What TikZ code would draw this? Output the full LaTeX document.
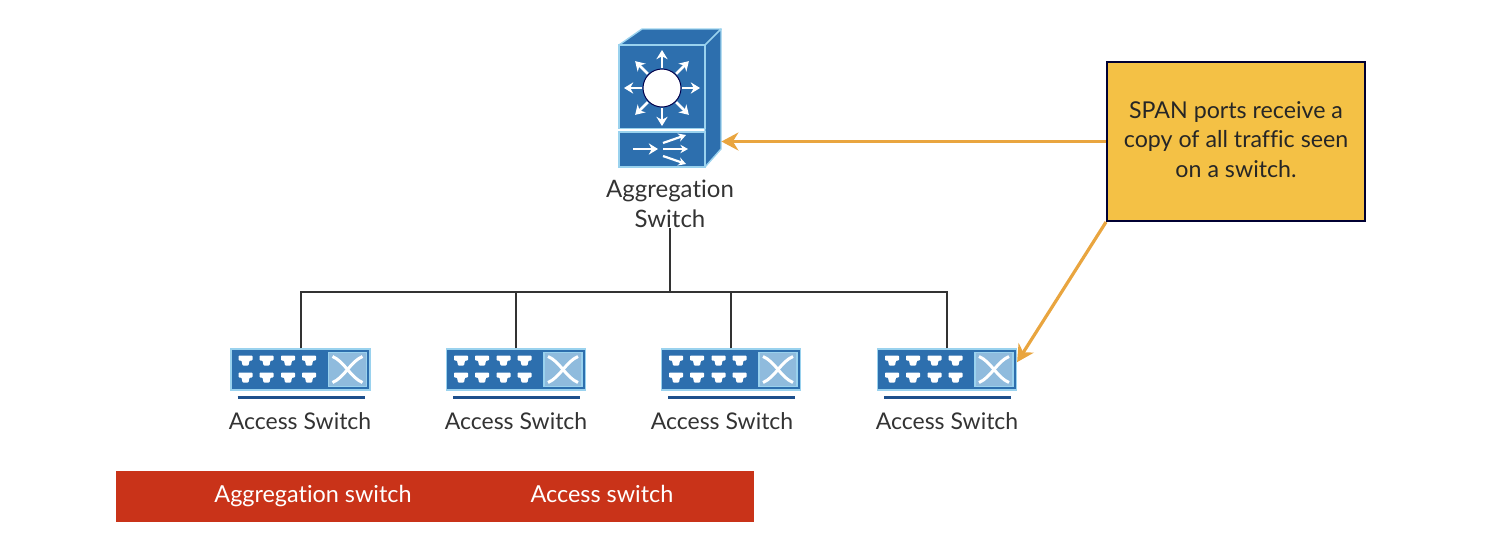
\documentclass[tikz,border=0pt]{standalone}
\usepackage{fontspec}
\setmainfont{Lato}[Ligatures=NoCommon]
\usetikzlibrary{arrows.meta,positioning,calc}
\tikzset{>=Stealth}
\definecolor{switchblue}{HTML}{2D6FAE}
\definecolor{switchedge}{HTML}{9AD2EE}
\definecolor{switchpanel}{HTML}{8FBBDD}
\definecolor{switchbar}{HTML}{1D4F8C}
\definecolor{notefill}{HTML}{F4C145}
\definecolor{notearrow}{HTML}{E9A53F}
\definecolor{barred}{HTML}{C93319}
\definecolor{labelgrey}{HTML}{333333}
\tikzset{
    whitearrow/.style={draw=white, line width=1.4pt, -{Stealth[length=4.6pt,width=5.6pt]}},
    fanarrow/.style={draw=white, line width=1.1pt, -{Stealth[length=3.8pt,width=4.2pt]}},
    accessbox/.style={rectangle, draw=switchedge, fill=switchblue, line width=0.6pt, inner sep=0pt, minimum width=69.5pt, minimum height=20.5pt},
    agglabel/.style={align=center, font=\fontsize{12}{14.8}\selectfont, text=labelgrey, inner sep=0pt},
    acclabel/.style={font=\fontsize{11.5}{14}\selectfont, text=labelgrey, inner sep=0pt},
    notebox/.style={rectangle, draw=black!80!blue, fill=notefill, line width=1pt, inner sep=0pt, minimum width=129pt, minimum height=79.5pt, align=center, font=\fontsize{11.6}{14.8}\selectfont, text=black!85},
    redbar/.style={rectangle, fill=barred, inner sep=0pt, minimum width=319pt, minimum height=25.5pt},
    barlabel/.style={text=white, inner sep=0pt, anchor=base, font=\fontsize{11.7}{13}\selectfont},
    link/.style={draw=black!80, line width=1pt},
    notelink/.style={draw=notearrow, line width=1.6pt, -{Stealth[length=8.5pt,width=9pt]}},
    pics/accessicon/.style={code={
        \foreach \px/\py in {-55/-9,-34/-9,-12.5/-9,8.5/-9,-55/8,-34/8,-12.5/8,8.5/8}
            \fill[white, rounded corners=0.4pt] (\px-7,\py-5) -- (\px+7,\py-5) -- (\px+7,\py) -- (\px+4,\py) -- (\px+3,\py+5) -- (\px-3,\py+5) -- (\px-4,\py) -- (\px-7,\py) -- cycle;
        \draw[switchedge, fill=switchpanel, line width=0.8pt] (28,-17) rectangle (66,17);
        \draw[white, line width=1.5pt] (32,-13) .. controls (44,-8) and (50,8) .. (62,13);
        \draw[white, line width=1.5pt] (32,13) .. controls (44,8) and (50,-8) .. (62,-13);
        \draw[switchbar, line width=1.5pt] (-63,27.5) -- (64,27.5);
    }}
}
\begin{document}
\begin{tikzpicture}[x=0.5pt, y=-0.5pt]
    \useasboundingbox (0,0) rectangle (1503,537);

    % aggregation switch
    \node[inner sep=0pt, minimum width=51pt, minimum height=69.5pt] (agg) at (670,98.5) {};
    \draw[switchedge, fill=switchblue, line width=0.7pt, line join=round] (619,45) -- (642,29) -- (721,29) -- (705,45) -- cycle;
    \draw[switchedge, fill=switchblue, line width=0.7pt, line join=round] (705,45) -- (721,29) -- (721,149) -- (705,167) -- cycle;
    \draw[switchedge, fill=switchblue, line width=0.7pt] (619,45) rectangle (705,128.5);
    \draw[switchedge, fill=switchblue, line width=0.7pt] (619,132) rectangle (705,167);
    \draw[black!70!blue, fill=white, line width=0.5pt] (662,88) circle (19);
    \foreach \a in {0,45,...,315}
        \draw[whitearrow] (662,88) ++(\a:20) -- ++(\a:18);
    \draw[whitearrow] (633,149) -- (658,149);
    \draw[fanarrow] (663,143) -- (686,135);
    \draw[fanarrow] (663,149) -- (688,149);
    \draw[fanarrow] (663,156) -- (686,164);
    \node[agglabel] (agglbl) at (670,204) {Aggregation\\Switch};

    % access switches
    \foreach \n/\cx/\lx in {1/300.5/300, 2/516/516, 3/731/722, 4/947/947}{
        \node[accessbox] (as\n) at (\cx,369.5) {};
        \pic at (\cx,369.5) {accessicon};
        \node[acclabel] (as\n lbl) at (\lx,421) {Access Switch};
    }

    \coordinate (busmid) at (670,292);
    \draw[link] (agglbl.south) -- (busmid);
    \draw[link] (as1.north) |- (busmid);
    \draw[link] (as2.north) |- (busmid);
    \draw[link] (as3.north) |- (busmid);
    \draw[link] (as4.north) |- (busmid);

    % note with its two arrows
    \node[notebox] (note) at (1236,141.5) {SPAN ports receive a\\copy of all traffic seen\\on a switch.\rule[-2pt]{0pt}{0pt}};
    \draw[notelink] (note.west) -- (note.west -| agg.east);
    \draw[notelink] (note.south west) -- (as4.6);

    % bottom bar
    \node[redbar] (bar) at (435,496.5) {};
    \node[barlabel] (baragg) at (313,502) {Aggregation switch};
    \node[barlabel] (baracc) at (602,502) {Access switch};
\end{tikzpicture}
\end{document}
